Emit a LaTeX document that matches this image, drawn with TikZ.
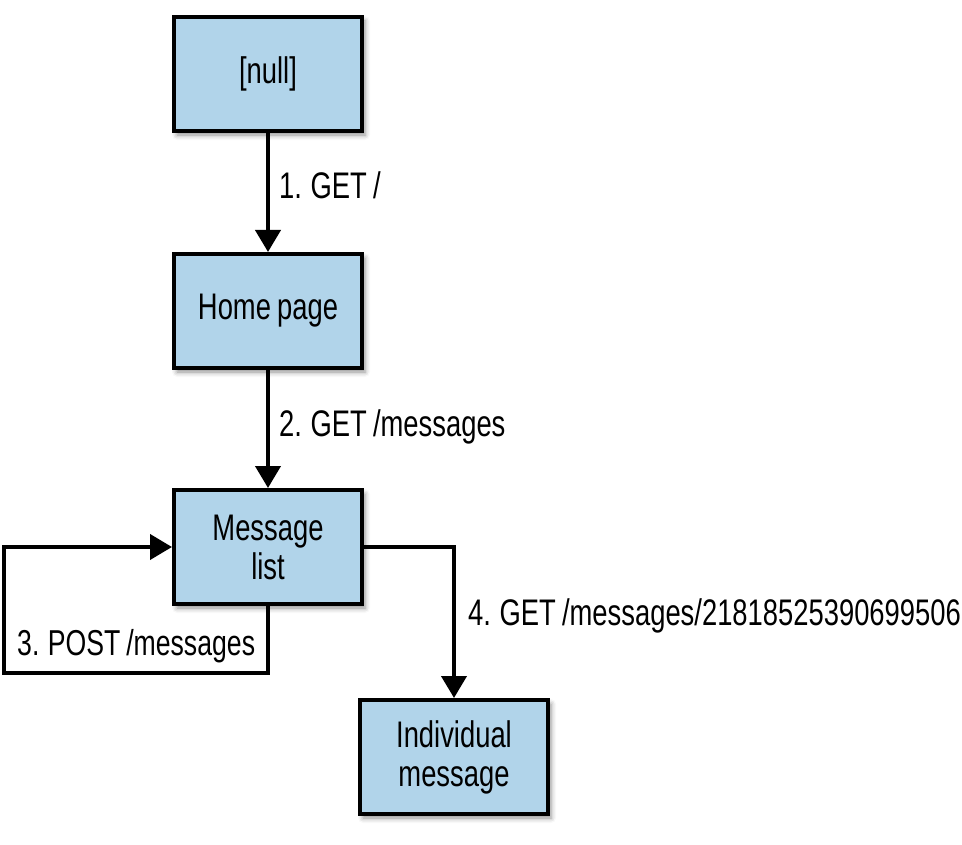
\documentclass[tikz,border=0pt]{standalone}
\usepackage{fontspec}
\setmainfont{Liberation Sans}[FakeStretch=0.74,WordSpace=0.8]
\usetikzlibrary{arrows.meta,shadows.blur}
\definecolor{boxblue}{RGB}{177,212,234}
\tikzset{
  pagebox/.style={draw=black, line width=4pt, fill=boxblue,
    minimum width=188pt, minimum height=114pt, align=center,
    font=\fontsize{37}{39}\selectfont, inner sep=0pt,
    blur shadow={shadow xshift=3pt, shadow yshift=-4pt, shadow blur radius=5pt, shadow opacity=45}},
  conn/.style={line width=4pt, -{Triangle[length=22pt,width=25pt]}},
  lbl/.style={font=\fontsize{37}{39}\selectfont, inner sep=0pt, anchor=base west}
}
\begin{document}
\begin{tikzpicture}[x=1pt,y=-1pt]
\useasboundingbox (0,0) rectangle (962,845);
\node[pagebox] (null) at (268,74) {[null]};
\node[pagebox] (home) at (268,311) {Home page};
\node[pagebox] (list) at (268,547) {Message\\list};
\node[pagebox] (indiv) at (454,757) {Individual\\message};
\draw[conn] (null) -- (home);
\draw[conn] (home) -- (list);
\coordinate (c1) at (268,673);
\coordinate (c2) at (4,673);
\coordinate (c3) at (4,547);
\draw[conn] (list.south) -- (c1) -- (c2) -- (c3) -- (list.west);
\coordinate (c4) at (454,547);
\draw[conn] (list.east) -- (c4) -- (indiv.north);
\node[lbl] (l1) at (279,199) {1. GET /};
\node[lbl] (l2) at (279,436) {2. GET /messages};
\node[lbl, font=\fontsize{36}{38}\selectfont] (l3) at (17,655) {3. POST /messages};
\node[lbl] (l4) at (468,625) {4. GET /messages/21818525390699506};
\end{tikzpicture}
\end{document}
